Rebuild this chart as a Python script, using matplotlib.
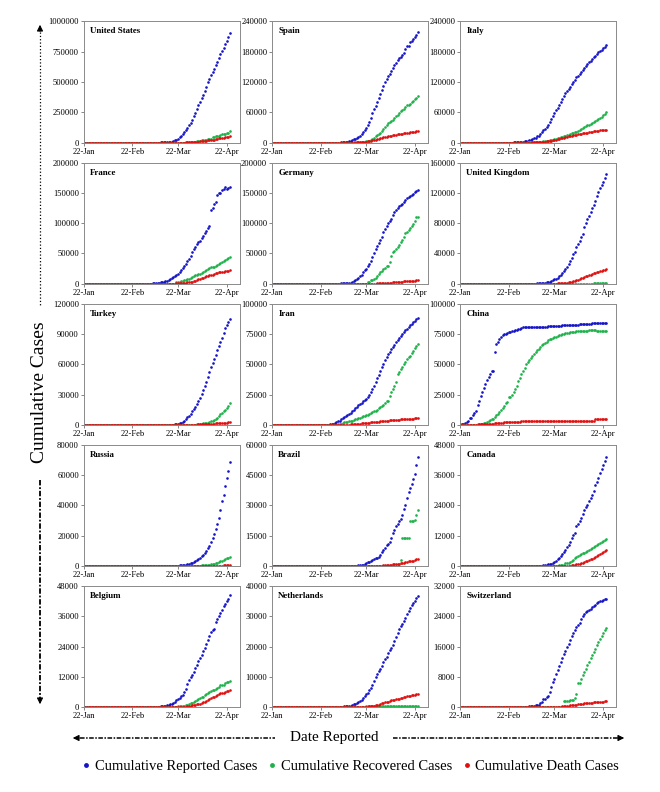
import matplotlib.pyplot as plt
import pandas as pd

# daily values from 22-Jan-2020 to 24-Apr-2020
N = 94
dates = pd.date_range('2020-01-22', periods=N)


def lead_zeros(values):
    # series are written from the first non-zero day up to 24-Apr
    return [0] * (N - len(values)) + values


us_reported = lead_zeros([
    75, 100, 124, 158, 221, 319, 435, 541, 704, 994,
    1301, 1630, 2183, 2770, 3613, 4596, 6344, 9197, 13779, 19367,
    24192, 33592, 43781, 54856, 68211, 85435, 104126, 123578, 143491, 164620, 189618,
    216722, 245540, 277965, 312237, 337072, 366667, 396223, 429052, 461437, 496535,
    526396, 555313, 580619, 607670, 636350, 667801, 699706, 732197, 759086, 784326,
    811865, 839675, 869170, 905358])
us_recovered = lead_zeros([
    7, 7, 7, 7, 7, 7, 7, 7, 7, 7,
    8, 8, 12, 12, 17, 17, 105, 121, 147, 176,
    178, 178, 0, 0, 361, 681, 869, 5220, 5898, 6448, 7024,
    8474, 9001, 9707, 14652, 17448, 19581, 21763, 23559, 25410, 28790,
    31270, 32988, 43482, 47763, 52096, 54703, 58545, 64840, 70337, 72329,
    75204, 77366, 80203, 99079])
us_death = lead_zeros([
    1, 6, 7, 11, 12, 14, 17, 21, 22, 28,
    36, 40, 47, 54, 63, 85, 108, 118, 200, 244,
    307, 427, 552, 706, 942, 1209, 1581, 2026, 2467, 2978, 3873,
    4757, 5926, 7087, 8407, 9619, 10783, 12722, 14695, 16478, 18586,
    20463, 22020, 23529, 25832, 28326, 32916, 36773, 38664, 40661, 42094,
    44444, 46622, 49954, 51949])

spain_reported = lead_zeros([
    84, 120, 165, 222, 259, 400, 500, 673, 1073, 1695,
    2277, 2277, 5232, 6391, 7798, 9942, 11748, 13910, 17963, 20410,
    25374, 28603, 35136, 39885, 49515, 57786, 65719, 73235, 80110, 87956, 95923,
    104118, 112065, 119199, 126168, 131646, 136675, 141942, 148220, 153222, 158273,
    163027, 166831, 170099, 172541, 177644, 184948, 190839, 191726, 198674, 200210,
    204178, 208389, 213024, 219764])
spain_recovered = lead_zeros([
    2, 2, 2, 2, 2, 2, 30, 30, 32, 32,
    183, 183, 193, 517, 517, 530, 1028, 1081, 1107, 1588,
    2125, 2575, 2575, 3794, 5367, 7015, 9357, 12285, 14709, 16780, 19259,
    22647, 26743, 30513, 34219, 38080, 40437, 43208, 44261, 48021, 52165,
    55668, 58613, 62391, 64727, 67504, 70853, 74797, 74797, 77357, 80587,
    82514, 85915, 89250, 92355])
spain_death = lead_zeros([
    0, 0, 1, 2, 3, 5, 10, 17, 28, 35,
    54, 55, 133, 195, 289, 342, 533, 623, 830, 1043,
    1375, 1772, 2311, 2808, 3647, 4365, 5138, 5982, 6803, 7716, 8464,
    9387, 10348, 11198, 11947, 12641, 13341, 14045, 14792, 15447, 16081,
    16606, 17209, 17756, 18056, 18708, 19315, 20002, 20043, 20453, 20852,
    21282, 21717, 22157, 22524])

italy_reported = lead_zeros([
    20, 62, 155, 229, 322, 453, 655, 888, 1128,
    1694, 2036, 2502, 3089, 3858, 4636, 5883, 7375, 9172, 10149,
    12462, 12462, 17660, 21157, 24747, 27980, 31506, 35713, 41035, 47021,
    53578, 59138, 63927, 69176, 74386, 80589, 86498, 92472, 97689, 101739, 105792,
    110574, 115242, 119827, 124632, 128948, 132547, 135586, 139422, 143626, 147577,
    152271, 156363, 159516, 162488, 165155, 168941, 172434, 175925, 178972, 181228,
    183957, 187327, 189973, 192994])
italy_recovered = lead_zeros([
    83, 149, 160, 276, 414, 523, 589, 622, 724, 724,
    1045, 1045, 1439, 1966, 2335, 2749, 2941, 4025, 4440, 4440,
    6072, 7024, 7432, 8326, 9362, 10361, 10950, 12384, 13030, 14620, 15729,
    16847, 18278, 19758, 20996, 21815, 22837, 24392, 26491, 28470, 30455,
    32534, 34211, 35435, 37130, 38092, 40164, 42727, 44927, 47055, 48877,
    51600, 54543, 57576, 60498])
italy_death = lead_zeros([
    34, 52, 79, 107, 148, 197, 233, 366, 463, 631,
    827, 827, 1266, 1441, 1809, 2158, 2503, 2978, 3405, 4032,
    4825, 5476, 6077, 6820, 7503, 8215, 9134, 10023, 10779, 11591, 12428,
    13155, 13915, 14681, 15362, 15887, 16523, 17127, 17669, 18279, 18849,
    19468, 19899, 20465, 21067, 21645, 22170, 22745, 23227, 23660, 24114,
    24648, 25085, 25549, 25969])

france_reported = lead_zeros([
    130, 191, 204, 288, 380, 656, 959, 1136, 1219, 1794,
    2293, 2293, 3681, 4496, 4532, 6683, 7715, 9124, 10970, 12758,
    14463, 16243, 20123, 22622, 25600, 29551, 33402, 38105, 40708, 45170, 52827,
    57749, 59929, 65202, 69500, 71412, 75343, 79163, 83057, 87366, 91738,
    94863, 121712, 125394, 131361, 134582, 147091, 149130, 149149, 154097, 156480,
    159297, 157125, 158303, 159952])
france_recovered = lead_zeros([
    12, 12, 12, 12, 12, 12, 12, 12, 12, 12,
    12, 12, 12, 12, 12, 12, 12, 12, 12, 12,
    2200, 2200, 3281, 3900, 4948, 5707, 5724, 7226, 7964, 9513, 11053,
    12548, 14135, 14135, 15572, 16349, 17428, 19523, 21452, 23413, 25195,
    26663, 27469, 27718, 28001, 28805, 30955, 33327, 34420, 35983, 37409,
    39181, 40657, 42088, 43493])
france_death = lead_zeros([
    2, 3, 4, 4, 6, 9, 11, 19, 19, 33,
    48, 48, 79, 91, 91, 148, 148, 148, 243, 450,
    562, 674, 860, 1100, 1331, 1696, 1995, 2314, 2606, 3024, 3523,
    4032, 4503, 6520, 7574, 8093, 8926, 10343, 10887, 12228, 13215,
    13851, 14412, 14986, 15712, 17167, 17920, 18681, 19323, 19718, 20265,
    20796, 21340, 21856, 22245])

germany_reported = lead_zeros([
    130, 159, 196, 262, 482, 670, 799, 1040, 1176, 1457,
    1908, 2078, 3675, 4585, 5795, 7272, 9257, 12327, 15320, 19848,
    22213, 24873, 29056, 32986, 37323, 43938, 50871, 57695, 62095, 66885, 71808,
    77872, 84794, 91159, 96092, 100123, 103374, 107663, 113296, 118181, 122171,
    124908, 127854, 130072, 131359, 134753, 137698, 141397, 143342, 145184, 147065,
    148291, 150648, 153129, 154999])
germany_recovered = lead_zeros([
    16, 16, 16, 16, 16, 17, 18, 18, 18, 25,
    25, 46, 46, 46, 67, 67, 105, 113, 180, 233,
    266, 266, 3243, 3547, 5673, 6658, 8481, 9211, 13500, 16100, 18700,
    21400, 24575, 26400, 28700, 28700, 36081, 46300, 52407, 53913, 57400,
    60300, 64300, 68200, 72600, 77000, 83114, 84778, 88000, 91500, 95200,
    99400, 103300, 109800, 109800])
germany_death = lead_zeros([
    2, 2, 3, 3, 7, 9, 11, 17, 24, 28, 44, 67,
    84, 94, 123, 157, 206, 267, 342, 433, 533, 645, 775,
    920, 1107, 1275, 1444, 1584, 1810, 2016, 2349, 2607, 2767,
    2736, 3022, 3194, 3294, 3804, 4052, 4352, 4459, 4586, 4862,
    5033, 5279, 5575, 5760])

uk_reported = lead_zeros([
    36, 40, 51, 86, 116, 164, 207, 274, 322, 384,
    459, 459, 802, 1144, 1145, 1551, 1960, 2642, 2716, 4014,
    5067, 5745, 6726, 8164, 9640, 11812, 14745, 17312, 19780, 22453, 25481,
    29865, 34173, 38689, 42477, 48436, 52279, 55949, 61474, 65872, 74605,
    79874, 85206, 89570, 94845, 99483, 104145, 109769, 115314, 121172, 125856,
    130172, 134638, 139246, 144640])
uk_recovered = lead_zeros([
    8, 8, 8, 8, 18, 18, 18, 18, 18, 18,
    18, 18, 19, 19, 19, 65, 65, 65, 65, 65,
    65, 65, 135, 135, 135, 135, 135, 135, 135, 135, 135,
    135, 135, 208, 215, 229, 287, 325, 344, 359, 359,
    359, 359, 368, 382, 389, 405, 420, 470, 520, 560,
    600, 640, 680, 720])
uk_death = lead_zeros([
    1, 2, 2, 3, 4, 6,
    8, 8, 8, 21, 21, 56, 56, 72, 138, 178,
    234, 282, 336, 423, 466, 580, 761, 1021, 1231, 1411, 1793,
    2357, 2926, 3611, 4320, 4943, 5385, 6171, 7111, 7993, 8974,
    9892, 10629, 11347, 12129, 12894, 13759, 14607, 15498, 16095, 16550,
    17378, 18151, 18791, 19567])

turkey_reported = lead_zeros([
    1, 1, 5, 5, 6, 18, 47, 98, 192, 359,
    670, 947, 1236, 1529, 1872, 2433, 3629, 5698, 7402, 9217, 10827, 13531,
    15679, 18135, 20921, 23934, 27069, 30217, 34109, 38226, 42282, 47029,
    52167, 56956, 61049, 65111, 69392, 74193, 78546, 82329, 86306, 90980,
    95591, 98674, 101790, 104912])
turkey_recovered = lead_zeros([
    26, 26, 42, 70, 105, 162, 243,
    333, 415, 484, 786, 1042, 1326, 1582, 1846, 2142, 2423,
    2965, 3446, 3957, 4799, 5674, 7089, 8631, 10453, 11976, 13430,
    14918, 16477, 18491, 21737])
turkey_death = lead_zeros([
    1, 2, 3, 4, 9, 30, 37, 44, 59, 75, 92, 108, 131, 168, 214,
    277, 356, 425, 501, 574, 649, 725, 812, 908, 1006,
    1101, 1198, 1296, 1403, 1518, 1643, 1769, 1890, 2017, 2140,
    2259, 2376, 2491, 2600])

iran_reported = lead_zeros([
    2, 5, 18, 28, 43, 61, 95, 139, 245, 388, 593,
    978, 1501, 2336, 2922, 3513, 4747, 5823, 6566, 7161, 8042,
    9000, 10075, 11364, 12729, 13938, 14991, 16169, 17361, 18407, 19644,
    20610, 21638, 23049, 24811, 27017, 29406, 32332, 35408, 38309, 41495, 44605,
    47593, 50468, 53183, 55743, 58226, 60500, 62589, 64586, 66220, 68192,
    70029, 71686, 73303, 74877, 76389, 77995, 79494, 80868, 82211, 83505,
    84802, 85996, 87026, 88194])
iran_recovered = lead_zeros([
    175, 291, 291, 552, 739, 913, 1669, 2134, 2394, 2731,
    2959, 2959, 3529, 4339, 4590, 4590, 5389, 5710, 6745, 7635,
    7635, 7931, 7931, 8913, 9625, 10457, 11133, 11679, 12391, 13911, 14656,
    15473, 16711, 17935, 19736, 19736, 24236, 27039, 29812, 32309, 35465,
    41947, 43894, 45983, 48129, 49933, 52229, 54064, 55987, 57023, 59273,
    60965, 63113, 64843, 66599])
iran_death = lead_zeros([
    2, 2, 4, 5, 8, 12, 16, 19, 26, 34, 43,
    54, 66, 77, 92, 107, 124, 145, 194, 237, 291,
    354, 429, 514, 611, 724, 853, 988, 1135, 1284, 1433,
    1556, 1685, 1812, 1934, 2077, 2234, 2378, 2517, 2640, 2757, 2898,
    3036, 3160, 3294, 3452, 3603, 3739, 3872, 3993, 4110, 4232,
    4357, 4474, 4585, 4683, 4777, 4869, 4958, 5031, 5118, 5209,
    5297, 5391, 5481, 5574])

china_reported = lead_zeros([
    548, 643, 920, 1406, 2075, 2877, 5509, 6087, 8141, 9802,
    11891, 16630, 19716, 23707, 27440, 30587, 34110, 36814, 39829, 42354, 44386,
    44759, 59895, 66358, 68413, 70513, 72434, 74211, 74619, 75077, 75550,
    77001, 77022, 77241, 77754, 78166, 78600, 78928, 79356,
    80261, 80386, 80537, 80690, 80770, 80823, 80860, 80887, 80921, 80932,
    80945, 80977, 81003, 81033, 81058, 81102, 81156, 81250, 81305, 81435,
    81498, 81591, 81661, 81782, 81897, 81999, 82122, 82198, 82279, 82361, 82432,
    82511, 82543, 82602, 82665, 82718, 82809, 82883, 82941, 83014, 83134,
    83213, 83306, 83356, 83403, 83760, 83787, 83805, 83817, 83853, 83868,
    83884, 83899, 83909, 83912])
china_recovered = lead_zeros([
    28, 30, 36, 39, 49, 58, 101, 120, 135, 214,
    275, 463, 614, 843, 1115, 1476, 1998, 2595, 3218, 3918,
    4636, 5082, 6217, 7977, 9298, 10755, 12462, 14206, 15962, 18014,
    18704, 22699, 23383, 24734, 27323, 29745, 32495, 36117, 39002,
    41625, 44462, 47204, 49856, 52045, 53726, 55404, 57065, 58600, 59897,
    61475, 62793, 64111, 65541, 67023, 67863, 68799, 69725, 70547, 71284,
    71876, 72382, 72841, 73299, 73791, 74196, 74737, 75100, 75582, 75923, 76206,
    76405, 76565, 76760, 76946, 77078, 77167, 77310, 77410, 77567, 77679,
    77791, 77877, 77956, 78034, 78096, 78189, 78195, 77276, 77394, 77466,
    77517, 77596, 77655, 77722])
china_death = lead_zeros([
    17, 18, 26, 42, 56, 82, 131, 133, 171, 213,
    259, 361, 425, 491, 563, 633, 718, 805, 905, 1012,
    1112, 1117, 1369, 1521, 1663, 1766, 1864, 2003, 2116, 2238,
    2238, 2443, 2445, 2595, 2665, 2717, 2746, 2790, 2837,
    2872, 2914, 2947, 2983, 3015, 3044, 3072, 3100, 3123, 3139,
    3161, 3172, 3180, 3193, 3203, 3217, 3230, 3241, 3249, 3253,
    3259, 3274, 3274, 3281, 3285, 3291, 3296, 3299, 3304, 3308, 3309,
    3316, 3322, 3326, 3330, 3333, 3335, 3335, 3337, 3339, 3340,
    3343, 3343, 3345, 3345, 3346, 3346, 4636, 4636, 4636, 4636,
    4636, 4636, 4636, 4636])

russia_reported = lead_zeros([
    2, 3, 3, 3, 4, 13, 13, 17, 17, 20,
    20, 28, 45, 59, 63, 90, 114, 147, 199, 253,
    306, 367, 438, 495, 658, 840, 1036, 1264, 1534, 1836, 2337,
    2777, 3548, 4149, 4731, 5389, 6343, 7497, 8672, 10131, 11917,
    13584, 15770, 18328, 21102, 24490, 27938, 32008, 36793, 42853, 47121,
    52763, 57999, 62773, 68622])
russia_recovered = lead_zeros([
    3, 5, 5, 8, 9, 9, 9, 16, 17, 22, 29, 38, 45, 64, 66, 121, 121,
    190, 190, 235, 281, 355, 406, 494, 580, 698, 886,
    1045, 1291, 1470, 1694, 1986, 2304, 2590, 3057, 3291, 3873,
    4420, 5022, 5568, 6013])
russia_death = lead_zeros([
    1, 3, 3, 4, 8, 9, 17,
    24, 30, 34, 43, 45, 47, 58, 63, 76, 94,
    106, 130, 148, 170, 198, 232, 273, 313, 361, 405,
    456, 513, 555, 615])

brazil_reported = lead_zeros([
    2, 2, 2, 4, 4, 13, 13, 20, 25, 31,
    38, 52, 151, 151, 162, 200, 321, 372, 621, 793,
    1021, 1546, 1924, 2247, 2554, 2985, 3417, 3904, 4256, 4579, 5717,
    6836, 8044, 9056, 10360, 11130, 12161, 14034, 16170, 18092, 19638,
    20727, 22192, 23430, 25262, 28320, 30425, 33682, 36658, 38654, 40743,
    43079, 45757, 50036, 54043])
brazil_recovered = lead_zeros([
    2, 6, 6, 6, 6, 6, 120,
    127, 127, 127, 127, 127, 127, 127, 173, 173, 173,
    173, 173, 3046, 14026, 14026, 14026, 14026, 14026, 22130, 22130,
    22130, 22991, 25318, 27655])
brazil_death = lead_zeros([
    1, 3, 6, 11, 15, 25, 34, 46, 59, 77, 92, 111, 136, 159, 201,
    240, 324, 359, 445, 486, 564, 686, 819, 950, 1057,
    1124, 1223, 1328, 1532, 1736, 1924, 2141, 2354, 2462, 2587,
    2741, 2906, 3331, 3704])

canada_reported = lead_zeros([
    24, 27, 30, 33, 37, 49, 54, 64, 77, 79,
    108, 117, 193, 198, 252, 415, 478, 657, 800, 943,
    1277, 1469, 2088, 2790, 3251, 4042, 4682, 5576, 6280, 7398, 8527,
    9560, 11284, 12437, 12978, 15756, 16563, 17872, 19141, 20654, 22059,
    23316, 24298, 25680, 27035, 28209, 29812, 31927, 33383, 35056, 36829,
    38422, 40179, 41715, 43299])
canada_recovered = lead_zeros([
    12, 14, 112, 185, 261, 380, 466, 519, 1256, 1324, 1425,
    1764, 2135, 2568, 3045, 3456, 3853, 4268, 4670, 5040, 5383,
    5756, 6102, 6490, 6883, 7235, 7618, 8009, 8429, 8810, 9187,
    9566, 9953, 10311, 10650])
canada_death = lead_zeros([
    24, 25, 27, 35, 54, 63, 85, 110, 160,
    230, 320, 420, 540, 680, 830, 1000, 1190, 1390, 1610,
    1850, 2100, 2380, 2680, 3000, 3350, 3720, 4100, 4500, 4900,
    5300, 5700, 6100, 6500])

belgium_reported = lead_zeros([
    2, 8, 13, 23, 50, 109, 169, 200, 239, 267,
    314, 314, 559, 689, 886, 1058, 1243, 1486, 1795, 2257,
    2815, 3401, 3743, 4269, 4937, 6235, 7284, 9134, 10836, 11899, 12775,
    13964, 15348, 16770, 18431, 19691, 20814, 22194, 23403, 24983, 26667,
    28018, 29647, 30589, 31119, 33573, 34809, 36138, 37183, 38496, 39983,
    40956, 41889, 42797, 44293])
belgium_recovered = lead_zeros([
    263, 340, 350, 410, 547, 675, 858, 1063, 1359, 1527, 1696,
    2132, 2495, 2872, 3247, 3751, 3986, 4157, 4681, 5164, 5568,
    5986, 6463, 6707, 6868, 7107, 7562, 7961, 8757, 8895, 9002,
    9433, 9800, 10122, 10417])
belgium_death = lead_zeros([
    3, 3, 3, 4, 4, 5, 10, 14, 21, 37,
    67, 75, 88, 122, 178, 220, 289, 353, 431, 513, 705,
    828, 1011, 1143, 1283, 1447, 1632, 2035, 2240, 2523, 3019,
    3346, 3600, 3903, 4157, 4440, 4857, 5163, 5453, 5683, 5828,
    5998, 6262, 6490, 6679])

netherlands_reported = lead_zeros([
    10, 18, 24, 38, 82, 128, 188, 265, 321, 382,
    503, 503, 806, 962, 1138, 1416, 1711, 2058, 2467, 3003,
    3640, 4216, 4764, 5580, 6438, 7468, 8647, 9819, 10930, 11817, 12667,
    13696, 14788, 15821, 16727, 17953, 18926, 19709, 20682, 21903, 23249,
    24571, 25746, 26710, 27580, 28316, 29383, 30619, 31766, 32838, 33588,
    34317, 35032, 35921, 36727])
netherlands_recovered = lead_zeros([
    2, 2, 250, 250, 250, 250, 250, 250, 250, 250, 250, 250,
    250, 250, 250, 250, 250, 250, 250, 250, 250, 250,
    250, 250, 250, 250, 250, 250, 250, 250, 250, 250,
    250, 250, 250, 250])
netherlands_death = lead_zeros([
    1, 1, 3, 3, 4, 5, 5, 10, 12, 20, 24, 43, 58, 76, 106, 136,
    179, 213, 276, 356, 434, 546, 639, 771, 864, 1039,
    1339, 1487, 1651, 1766, 1867, 2101, 2248, 2396, 2511, 2643,
    2737, 2823, 2945, 3134, 3315, 3459, 3601, 3684, 3751, 3916,
    4054, 4177, 4289, 4409])

switzerland_reported = lead_zeros([
    27, 42, 56, 90, 114, 214, 268, 337, 374, 491,
    652, 652, 1139, 1359, 2200, 2200, 2700, 3028, 4075, 5294,
    6575, 7474, 8795, 9877, 10897, 11811, 12928, 14076, 14829, 15922, 16605,
    17768, 18827, 19606, 20505, 21100, 21657, 22253, 23280, 24051, 24551,
    25107, 25415, 25688, 25936, 26336, 26732, 27078, 27404, 27740, 27944,
    28063, 28268, 28496, 28677])
switzerland_recovered = lead_zeros([
    1530, 1530, 1595, 1595, 1823, 1823, 1823,
    2500, 3400, 6300, 6400, 7500, 8400, 9300, 10200, 11100, 12000,
    13000, 13700, 14600, 15400, 16400, 17100, 18000, 18800, 19600, 20300,
    21000])
switzerland_death = lead_zeros([
    1, 1, 2, 2, 3, 3, 4, 4, 11, 13, 14, 14, 27, 28, 41, 54,
    75, 98, 120, 122, 153, 191, 231, 264, 300, 359, 433,
    488, 536, 591, 666, 715, 765, 821, 895, 948, 1002,
    1036, 1106, 1138, 1174, 1239, 1281, 1327, 1368, 1393, 1429,
    1478, 1509, 1549, 1589])

countries = ['United States', 'Spain', 'Italy', 'France', 'Germany',
             'United Kingdom', 'Turkey', 'Iran', 'China', 'Russia',
             'Brazil', 'Canada', 'Belgium', 'Netherlands', 'Switzerland']
reported = [us_reported, spain_reported, italy_reported, france_reported,
            germany_reported, uk_reported, turkey_reported, iran_reported,
            china_reported, russia_reported, brazil_reported, canada_reported,
            belgium_reported, netherlands_reported, switzerland_reported]
recovered = [us_recovered, spain_recovered, italy_recovered, france_recovered,
             germany_recovered, uk_recovered, turkey_recovered, iran_recovered,
             china_recovered, russia_recovered, brazil_recovered,
             canada_recovered, belgium_recovered, netherlands_recovered,
             switzerland_recovered]
death = [us_death, spain_death, italy_death, france_death, germany_death,
         uk_death, turkey_death, iran_death, china_death, russia_death,
         brazil_death, canada_death, belgium_death, netherlands_death,
         switzerland_death]
y_max = [1000000, 240000, 240000, 200000, 200000, 160000, 120000, 100000,
         100000, 80000, 60000, 48000, 48000, 40000, 32000]
tick_dates = ['2020-01-22', '2020-02-22', '2020-03-22', '2020-04-22']
tick_labels = ['22-Jan', '22-Feb', '22-Mar', '22-Apr']

BLUE = '#1515c8'
GREEN = '#1fb24a'
RED = '#e01010'

plt.rcParams['font.family'] = ['Liberation Serif', 'DejaVu Serif']

fig, axes = plt.subplots(5, 3, figsize=(6.6, 7.92), dpi=100)
fig.subplots_adjust(left=0.127, right=0.934, top=0.973, bottom=0.107,
                    wspace=0.205, hspace=0.164)

start = pd.Timestamp('2020-01-22')
for i, ax in enumerate(axes.flat):
    ax.plot(dates, reported[i], 'o', ms=1.9, mew=0, color=BLUE)
    ax.plot(dates, recovered[i], 'o', ms=1.9, mew=0, color=GREEN)
    ax.plot(dates, death[i], 'o', ms=1.9, mew=0, color=RED)
    ax.set_xlim(start, start + pd.Timedelta(days=99.5))
    ax.set_ylim(0, y_max[i])
    ax.set_yticks([y_max[i] * k / 4 for k in range(5)])
    ax.set_yticklabels(['%d' % (y_max[i] * k / 4) for k in range(5)])
    ax.set_xticks(pd.to_datetime(tick_dates))
    ax.set_xticklabels(tick_labels)
    ax.tick_params(labelsize=6.1, length=2, width=0.5, pad=1.5, color='#555555')
    for s in ax.spines.values():
        s.set_color('#8a8a8a')
        s.set_linewidth(0.7)
    ax.text(0.04, 0.95, countries[i], transform=ax.transAxes, ha='left', va='top',
            fontsize=6.4, fontweight='bold')

# arrows and axis captions, placed in pixel coordinates
over = fig.add_axes([0, 0, 1, 1], zorder=-1)
over.axis('off')
over.set_xlim(0, 660)
over.set_ylim(792, 0)

over.plot([40, 40], [32, 305], ls=':', lw=0.9, color='black')
over.plot([40, 40], [480, 700], ls=(0, (3, 1, 1, 1)), lw=1.3, color='black')
over.annotate('', xy=(40, 22), xytext=(40, 34),
              arrowprops=dict(arrowstyle='-|>', color='black', lw=0.8, mutation_scale=9))
over.annotate('', xy=(40, 707), xytext=(40, 695),
              arrowprops=dict(arrowstyle='-|>', color='black', lw=0.8, mutation_scale=9))
over.text(40, 392, 'Cumulative Cases', rotation=90, ha='center', va='center', fontsize=14)

over.plot([80, 275], [738, 738], ls=(0, (3, 1, 1, 1)), lw=1.1, color='black')
over.plot([393, 618], [738, 738], ls=(0, (3, 1, 1, 1)), lw=1.1, color='black')
over.annotate('', xy=(70, 738), xytext=(82, 738),
              arrowprops=dict(arrowstyle='-|>', color='black', lw=0.8, mutation_scale=9))
over.annotate('', xy=(627, 738), xytext=(615, 738),
              arrowprops=dict(arrowstyle='-|>', color='black', lw=0.8, mutation_scale=9))
over.text(334, 738, 'Date Reported', ha='center', va='center', fontsize=11)

handles = [plt.Line2D([], [], ls='none', marker='o', ms=3.5, mew=0, color=c)
           for c in (BLUE, GREEN, RED)]
fig.legend(handles, ['Cumulative Reported Cases', 'Cumulative Recovered Cases',
                     'Cumulative Death Cases'],
           loc='center', bbox_to_anchor=(0.53, 1 - 766 / 792), ncol=3, frameon=False,
           fontsize=10.5, handletextpad=0.2, columnspacing=0.6, handlelength=0.8)

fig.savefig('out.png', dpi=100)
